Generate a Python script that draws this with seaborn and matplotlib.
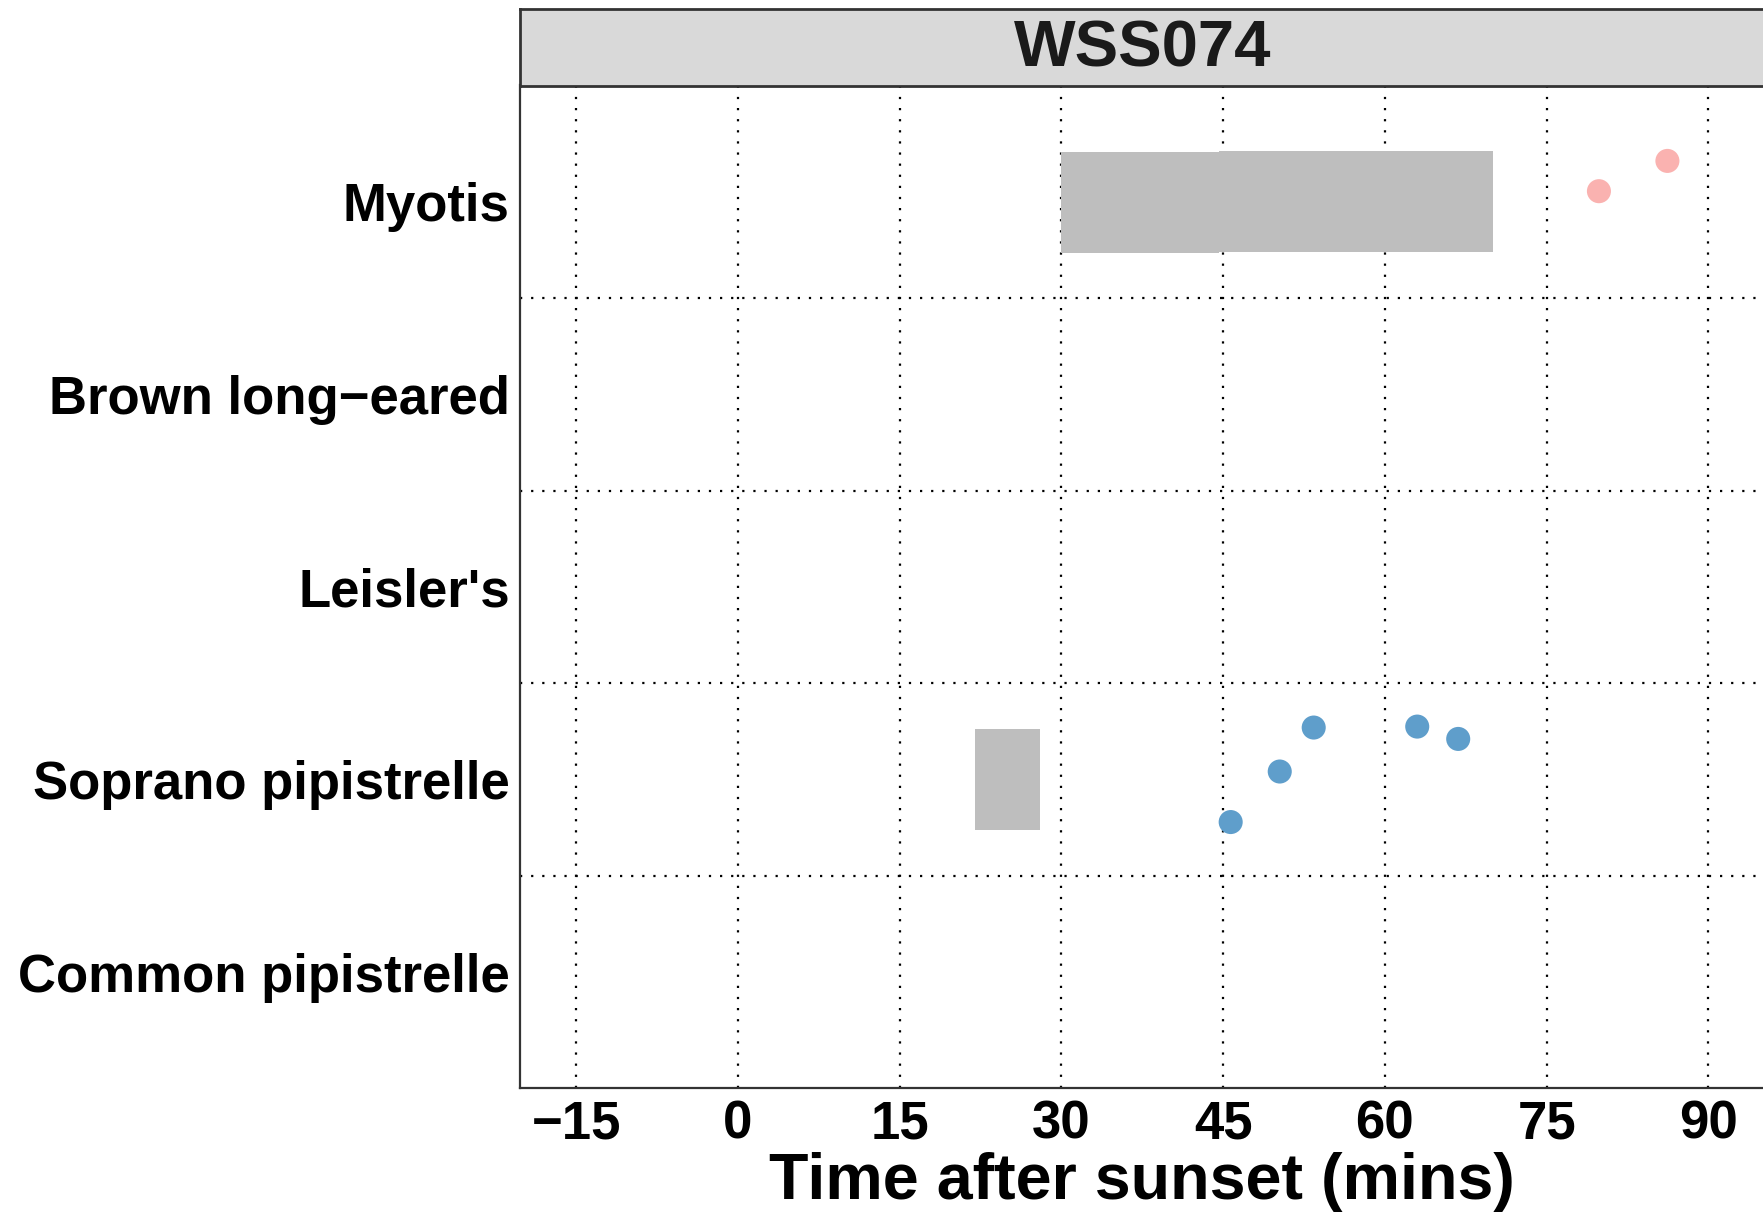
import matplotlib
matplotlib.use("Agg")
import matplotlib.pyplot as plt
import seaborn as sns
import pandas as pd

# ---------------- data ----------------
site = "WSS074"
species = ["Myotis", "Brown long\u2212eared", "Leisler's",
           "Soprano pipistrelle", "Common pipistrelle"]
x_ticks = [-15, 0, 15, 30, 45, 60, 75, 90]

# grey activity windows (minutes after sunset)
win_species = ["Myotis", "Myotis", "Soprano pipistrelle"]
win_start = [30.0, 44.6, 22.0]
win_end = [44.6, 70.0, 28.0]
win_shift = [-0.006, 0.0, 0.0]

# individual bat passes (time, species, vertical jitter)
pt_species = ["Myotis", "Myotis",
              "Soprano pipistrelle", "Soprano pipistrelle", "Soprano pipistrelle",
              "Soprano pipistrelle", "Soprano pipistrelle"]
pt_time = [79.85, 86.2, 45.7, 50.25, 53.4, 63.0, 66.8]
pt_jitter = [0.052, 0.209, -0.219, 0.043, 0.271, 0.276, 0.212]

pt_colors = {"Myotis": "#FAB2B0", "Soprano pipistrelle": "#5F9ECB"}

# ---------------- figure ----------------
sns.set_theme(style="white")
plt.rcParams["font.family"] = ["Liberation Sans", "DejaVu Sans"]
plt.rcParams["font.weight"] = "bold"

W, H = 1763, 1213
fig = plt.figure(figsize=(W / 100, H / 100), dpi=100)

px_left, px_top, px_bottom, px_strip_top = 519.5, 85.5, 1088.4, 9.0
px_right = 1765.0
ax = fig.add_axes([px_left / W, 1 - px_bottom / H,
                   (px_right - px_left) / W, (px_bottom - px_top) / H])

ypos = {s: len(species) - 1 - i for i, s in enumerate(species)}

# bars
wdf = pd.DataFrame({"species": win_species, "start": win_start,
                    "end": win_end, "shift": win_shift})
for _, r in wdf.iterrows():
    ax.barh(ypos[r["species"]] + r["shift"], r["end"] - r["start"],
            left=r["start"], height=0.525, color="#BEBEBE",
            linewidth=0, zorder=2)

# points
pdf = pd.DataFrame({"species": pt_species, "time": pt_time, "jit": pt_jitter})
pdf["y"] = [ypos[s] + j for s, j in zip(pdf["species"], pdf["jit"])]
sns.scatterplot(data=pdf, x="time", y="y", hue="species", palette=pt_colors,
                s=300, linewidth=0, legend=False, ax=ax, zorder=3)

ax.set_xlim(-20.25, 95.25)
ax.set_ylim(-0.6, len(species) - 0.4)
ax.set_xticks(x_ticks)
ax.set_xticklabels([f"{v}".replace("-", "\u2212") for v in x_ticks])
ax.set_yticks([ypos[s] for s in species])
ax.set_yticklabels(species)
ax.set_yticks([i + 0.5 for i in range(len(species) - 1)], minor=True)

ax.grid(False)
ax.grid(True, axis="x", which="major", color="black", linestyle=(0, (1, 4)),
        linewidth=1.6, zorder=1)
ax.grid(True, axis="y", which="minor", color="black", linestyle=(0, (1, 4)),
        linewidth=1.6, zorder=1)
ax.set_axisbelow(True)

ax.tick_params(axis="both", which="both", length=0)
ax.tick_params(axis="y", labelsize=38, pad=7, labelcolor="black")
ax.tick_params(axis="x", labelsize=38, pad=8, labelcolor="black")
for lab in ax.get_xticklabels() + ax.get_yticklabels():
    lab.set_fontweight("bold")

ax.set_xlabel("Time after sunset (mins)", fontsize=46.5, fontweight="bold",
              color="black", labelpad=2)
ax.set_ylabel("")

for side in ["top", "right"]:
    ax.spines[side].set_visible(False)
for side in ["left", "bottom"]:
    ax.spines[side].set_color("#333333")
    ax.spines[side].set_linewidth(1.6)

# facet strip
sax = fig.add_axes([px_left / W, 1 - px_top / H,
                    (px_right - px_left) / W, (px_top - px_strip_top) / H])
sax.set_facecolor("#D9D9D9")
sax.set_xticks([])
sax.set_yticks([])
for side in ["top", "left", "bottom", "right"]:
    sax.spines[side].set_color("#333333")
    sax.spines[side].set_linewidth(2.0)
    sax.spines[side].set_visible(True)
sax.text(0.5, 0.47, site, transform=sax.transAxes, ha="center", va="center",
         fontsize=47, fontweight="bold", color="#1A1A1A")

fig.savefig("out.png", dpi=100)
